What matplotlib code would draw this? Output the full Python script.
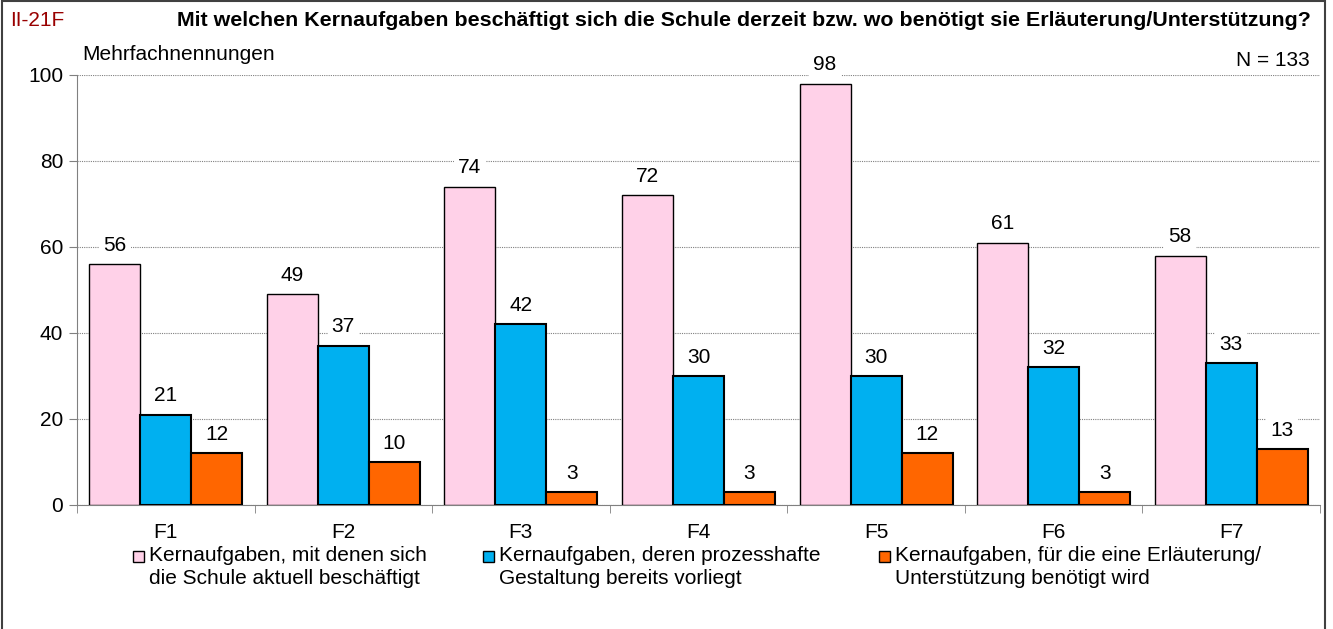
import numpy as np
import matplotlib
matplotlib.use("Agg")
import matplotlib.pyplot as plt
from matplotlib.patches import Rectangle

plt.rcParams["font.family"] = ["Liberation Sans", "DejaVu Sans"]

# data
categories = ["F1", "F2", "F3", "F4", "F5", "F6", "F7"]
aktuell = [56, 49, 74, 72, 98, 61, 58]
vorliegt = [21, 37, 42, 30, 30, 32, 33]
unterstuetzung = [12, 10, 3, 3, 12, 3, 13]
series_labels = [
    "Kernaufgaben, mit denen sich\ndie Schule aktuell beschäftigt",
    "Kernaufgaben, deren prozesshafte\nGestaltung bereits vorliegt",
    "Kernaufgaben, für die eine Erläuterung/\nUnterstützung benötigt wird",
]
colors = ["#FFD1E8", "#00B0F0", "#FF6600"]

FS = 15
W, H = 1333, 629

fig = plt.figure(figsize=(W / 100, H / 100), dpi=100)
ax = fig.add_axes([77 / W, 1 - 505 / H, (1320 - 77) / W, (505 - 75) / H])

x = np.arange(len(categories))
w = 0.287
for i, (vals, c) in enumerate(zip([aktuell, vorliegt, unterstuetzung], colors)):
    lw = 1.0 if i == 0 else 1.5
    bars = ax.bar(x + (i - 1) * w, vals, w, color=c, edgecolor="black", linewidth=lw, zorder=3)
    for b, v in zip(bars, vals):
        ax.text(b.get_x() + b.get_width() / 2, v + 4.4, str(v), ha="center", va="center",
                fontsize=FS, zorder=4,
                bbox=dict(facecolor="white", edgecolor="none", pad=3))

ax.set_xlim(-0.5, len(categories) - 0.5)
ax.set_ylim(0, 100)
ax.set_yticks([0, 20, 40, 60, 80, 100])
ax.yaxis.grid(True, color="#808080", linestyle=(0, (1, 1)), linewidth=0.8, zorder=0)
ax.set_xticks(x)
ax.set_xticklabels(categories)
ax.set_xticks(np.arange(len(categories) + 1) - 0.5, minor=True)
ax.tick_params(axis="x", which="major", length=0, pad=13, labelsize=FS)
ax.tick_params(axis="x", which="minor", length=6, direction="out", color="#808080")
ax.tick_params(axis="y", length=6, direction="out", labelsize=FS, color="#808080", pad=4)
for s in ["top", "right"]:
    ax.spines[s].set_visible(False)
for s in ["left", "bottom"]:
    ax.spines[s].set_color("#808080")

# legend, marker aligned with the first text line
leg_x = [133, 483, 879]
leg_y = 557
for lx, c, lab in zip(leg_x, colors, series_labels):
    fig.patches.append(Rectangle((lx / W, 1 - (leg_y + 5) / H), 11 / W, 11 / H,
                                 transform=fig.transFigure, facecolor=c,
                                 edgecolor="black", linewidth=1.0))
    fig.text((lx + 16) / W, 1 - (leg_y - 11) / H, lab, fontsize=FS, ha="left", va="top",
             linespacing=1.28)

fig.text(10 / W, 1 - 20 / H, "II-21F", color="#990000", fontsize=FS, va="center", ha="left")
fig.text(744 / W, 1 - 21 / H,
         "Mit welchen Kernaufgaben beschäftigt sich die Schule derzeit bzw. wo benötigt sie Erläuterung/Unterstützung?",
         fontsize=15.4, fontweight="bold", ha="center", va="center")
fig.text(82 / W, 1 - 55 / H, "Mehrfachnennungen", fontsize=FS, va="center", ha="left")
fig.text(1310 / W, 1 - 61 / H, "N = 133", fontsize=FS, va="center", ha="right")

fig.patches.append(Rectangle((2 / W, -0.01), 1323 / W, 1.01 - 1.5 / H, transform=fig.transFigure,
                             fill=False, edgecolor="#404040", linewidth=1.5))

fig.savefig("out.png", dpi=100)
